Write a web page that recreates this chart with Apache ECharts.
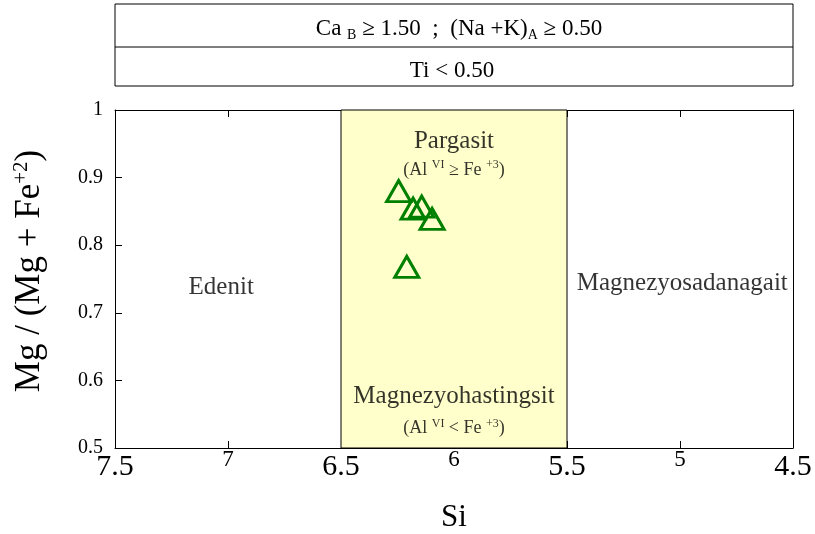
<!DOCTYPE html>
<html><head><meta charset="utf-8">
<script src="https://cdn.jsdelivr.net/npm/echarts@6/dist/echarts.min.js"></script>
<style>html,body{margin:0;padding:0;background:#fff}#c{width:815px;height:534px}</style>
</head><body><div id="c"></div>
<script>
// Data
const siValues = [6.245, 6.181, 6.143, 6.097, 6.209];
const mgRatio  = [0.880, 0.854, 0.857, 0.839, 0.768];
const xTickValues = [7.5, 7, 6.5, 6, 5.5, 5, 4.5];
const yTickValues = [0.5, 0.6, 0.7, 0.8, 0.9, 1];
const pargasiteField = [6.5, 5.5];
const fieldNames = ['Edenit', 'Pargasit', 'Magnezyohastingsit', 'Magnezyosadanagait'];
const fieldSi = [7.03, 6.0, 6.0, 4.99];
const fieldMg = [0.738, 0.953, 0.576, 0.744];
const noteNames = ['ge', 'lt'];
const noteSi = [6.0, 6.0];
const noteMg = [0.911, 0.529];

const FONT = 'Liberation Serif';
const chart = echarts.init(document.getElementById('c'));

const fieldLabelData = fieldNames.map((n, i) => ({ value: [fieldSi[i], fieldMg[i]], name: n }));
const noteLabelData = noteNames.map((n, i) => ({ value: [noteSi[i], noteMg[i]], name: n }));

chart.setOption({
  animation: false,
  backgroundColor: '#fff',
  grid: { left: 115, right: 22, top: 110, bottom: 86, containLabel: false, outerBoundsMode: 'none' },
  xAxis: [{
    type: 'value', min: 4.5, max: 7.5, interval: 0.5, inverse: true,
    name: 'Si', nameLocation: 'middle', nameGap: 54,
    nameTextStyle: { fontFamily: FONT, fontSize: 31, color: '#000' },
    axisLine: { lineStyle: { color: '#000', width: 1 } },
    axisTick: { inside: true, length: 7, lineStyle: { color: '#000' } },
    splitLine: { show: false },
    axisLabel: {
      margin: 0,
      formatter: v => (Math.abs(v - Math.round(v)) < 1e-6 ? '{i|' + v + '}' : '{h|' + v + '}'),
      rich: {
        i: { fontFamily: FONT, fontSize: 23, color: '#000', padding: [0, 0, 0, 0] },
        h: { fontFamily: FONT, fontSize: 30, color: '#000', padding: [4, 0, 0, 0] }
      }
    }
  }, {
    type: 'value', min: 4.5, max: 7.5, interval: 0.5, inverse: true, position: 'top',
    axisLine: { lineStyle: { color: '#000', width: 1 } },
    axisTick: { inside: true, length: 7, lineStyle: { color: '#000' } },
    axisLabel: { show: false }, splitLine: { show: false }
  }],
  yAxis: [{
    type: 'value', min: 0.5, max: 1, interval: 0.1,
    name: '{n|Mg / (Mg + Fe}{s|+2}{n|)}', nameLocation: 'middle', nameGap: 66,
    nameTextStyle: {
      padding: [0, 0, 0, 16],
      rich: {
        n: { fontFamily: FONT, fontSize: 35, color: '#000', lineHeight: 38 },
        s: { fontFamily: FONT, fontSize: 21, color: '#000', verticalAlign: 'top', lineHeight: 38, padding: [0, 0, 16, 0] }
      }
    },
    axisLine: { lineStyle: { color: '#000', width: 1 } },
    axisTick: { inside: true, length: 7, lineStyle: { color: '#000' } },
    splitLine: { show: false },
    axisLabel: { fontFamily: FONT, fontSize: 20, color: '#000', margin: 12,
      formatter: v => String(Math.round(v * 10) / 10) }
  }, {
    type: 'value', min: 0.5, max: 1, interval: 0.1, position: 'right',
    axisLine: { lineStyle: { color: '#000', width: 1 } },
    axisTick: { show: false },
    axisLabel: { show: false }, splitLine: { show: false }
  }],
  graphic: [
    { type: 'rect', shape: { x: 115, y: 4, width: 678, height: 82 }, style: { fill: '#fff', stroke: '#000', lineWidth: 1 } },
    { type: 'line', shape: { x1: 115, y1: 47, x2: 793, y2: 47 }, style: { stroke: '#000', lineWidth: 1 } },
    { type: 'text', x: 459, y: 29, style: {
      text: '{t|Ca }{b|B}{t| ≥ 1.50  ;  (Na +K)}{b|A}{t| ≥ 0.50}', align: 'center', verticalAlign: 'middle',
      rich: {
        t: { fontFamily: FONT, fontSize: 23, fill: '#000', lineHeight: 26 },
        b: { fontFamily: FONT, fontSize: 14, fill: '#000', lineHeight: 26, verticalAlign: 'bottom', padding: [9, 0, 0, 0] }
      } } },
    { type: 'text', x: 452, y: 71, style: {
      text: 'Ti < 0.50', align: 'center', verticalAlign: 'middle',
      font: '23px "' + FONT + '"', fill: '#000' } }
  ],
  series: [{
    type: 'scatter', xAxisIndex: 0, yAxisIndex: 0,
    data: siValues.map((s, i) => [s, mgRatio[i]]),
    symbol: 'triangle', symbolSize: [24, 21],
    itemStyle: { color: 'rgba(0,0,0,0)', borderColor: '#008000', borderWidth: 3, opacity: 1 },
    markArea: {
      silent: true,
      itemStyle: { color: '#ffffcc', borderColor: '#000', borderWidth: 1 },
      data: [[{ xAxis: pargasiteField[0] }, { xAxis: pargasiteField[1] }]]
    },
    z: 5
  }, {
    type: 'scatter', xAxisIndex: 0, yAxisIndex: 0, silent: true,
    data: fieldLabelData, symbolSize: 1, itemStyle: { color: 'rgba(0,0,0,0)' },
    label: { show: true, position: 'inside', formatter: p => p.name,
      fontFamily: FONT, fontSize: 25, color: '#000' }
  }, {
    type: 'scatter', xAxisIndex: 0, yAxisIndex: 0, silent: true,
    data: noteLabelData, symbolSize: 1, itemStyle: { color: 'rgba(0,0,0,0)' },
    label: { show: true, position: 'inside',
      formatter: p => p.name === 'ge'
        ? '{p|(Al }{s|VI}{p| ≥ Fe }{s|+3}{p|)}'
        : '{p|(Al }{s|VI}{p| < Fe }{s|+3}{p|)}',
      rich: {
        p: { fontFamily: FONT, fontSize: 18, color: '#000', lineHeight: 22 },
        s: { fontFamily: FONT, fontSize: 12, color: '#000', lineHeight: 22, verticalAlign: 'top', padding: [0, 0, 9, 0] }
      } }
  }]
});
</script>
</body></html>
